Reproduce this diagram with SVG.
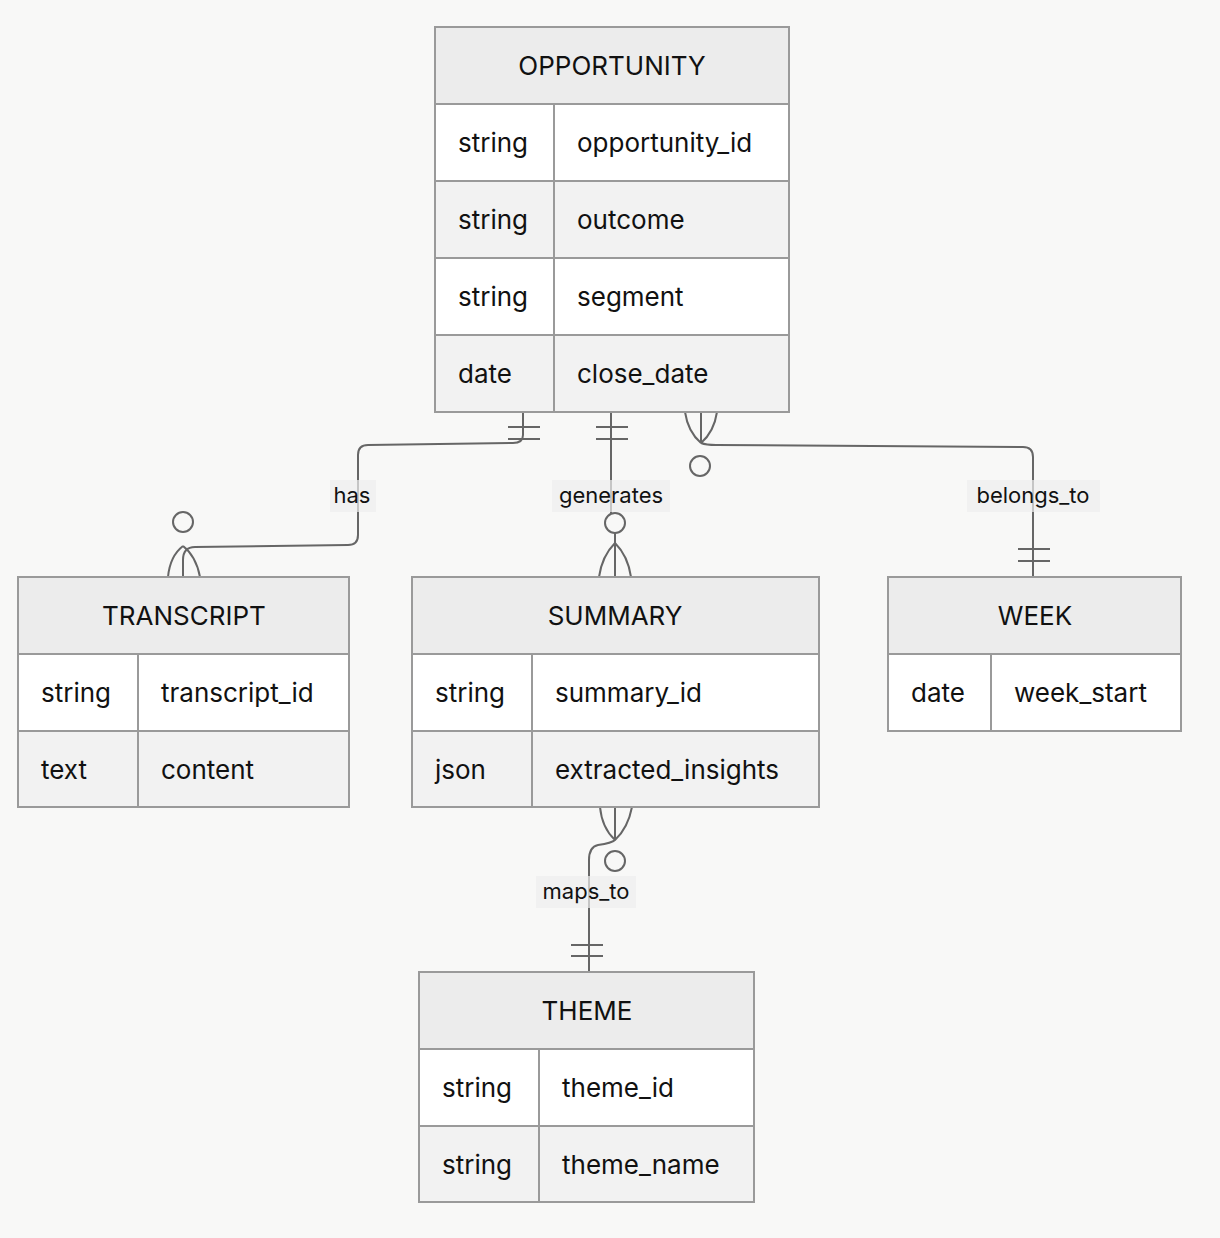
<svg xmlns="http://www.w3.org/2000/svg" width="1220" height="1238" viewBox="0 0 1220 1238">
<style>
.box{stroke:#9a9a9a;stroke-width:2}
.hd{fill:#ececec}.w{fill:#ffffff}.g{fill:#f2f2f2}
text{font-family:"Inter","Liberation Sans",sans-serif;fill:#111}
.t{font-size:26px}.h{font-size:26px;text-anchor:middle}
.l{font-size:22px;text-anchor:middle}
.c{fill:none;stroke:#666;stroke-width:2}
.lb{fill:#eeeeee;opacity:0.7}
</style>
<rect width="1220" height="1238" fill="#f8f8f7"/>
<g id="connectors">
<path class="c" d="M523,412 V435 Q523,443 513,443 L368,445 Q358,445 358,455 V535 Q358,545 348,545 L195,547 Q183,547 183,560 V577"/>
<path class="c" d="M168,577 Q170,556 183,546 M200,577 Q196,556 183,546"/>
<circle class="c" cx="183" cy="522" r="10" fill="#fff"/>
<path class="c" d="M508,427 H540 M508,439 H540"/>
<path class="c" d="M611,412 V513"/>
<path class="c" d="M596,427 H628 M596,439 H628"/>
<circle class="c" cx="615" cy="523" r="10" fill="#fff"/>
<path class="c" d="M615,533 V577 M599,577 Q602,556 615,543 M631,577 Q628,556 615,543"/>
<path class="c" d="M701,412 V443 M685,412 Q688,432 701,443 M717,412 Q714,432 701,443 M701,443 Q706,445 716,445 L1023,447 Q1033,447 1033,457 V577"/>
<circle class="c" cx="700" cy="466" r="10" fill="#fff"/>
<path class="c" d="M1018,549 H1050 M1018,561 H1050"/>
<path class="c" d="M615,807 V840 M600,807 Q602,828 615,840 M632,807 Q628,828 615,840 M615,840 Q612,843 598,845 Q589,847 589,860 V972"/>
<circle class="c" cx="615" cy="861" r="10" fill="#fff"/>
<path class="c" d="M571,945 H603 M571,956 H603"/>
<rect class="lb" x="330" y="480" width="46" height="32"/>
<text class="l" x="352" y="503">has</text>
<rect class="lb" x="552" y="480" width="118" height="32"/>
<text class="l" x="611" y="503">generates</text>
<rect class="lb" x="967" y="480" width="133" height="32"/>
<text class="l" x="1033" y="503">belongs_to</text>
<rect class="lb" x="536" y="876" width="100" height="32"/>
<text class="l" x="586" y="899">maps_to</text>
</g>
<g id="OPPORTUNITY">
<rect class="box hd" x="435" y="27" width="354" height="77"/>
<rect class="box w" x="435" y="104" width="119" height="77"/><rect class="box w" x="554" y="104" width="235" height="77"/>
<rect class="box g" x="435" y="181" width="119" height="77"/><rect class="box g" x="554" y="181" width="235" height="77"/>
<rect class="box w" x="435" y="258" width="119" height="77"/><rect class="box w" x="554" y="258" width="235" height="77"/>
<rect class="box g" x="435" y="335" width="119" height="77"/><rect class="box g" x="554" y="335" width="235" height="77"/>
<text class="h" x="612" y="75">OPPORTUNITY</text>
<text class="t" x="458" y="152">string</text><text class="t" x="577" y="152">opportunity_id</text>
<text class="t" x="458" y="229">string</text><text class="t" x="577" y="229">outcome</text>
<text class="t" x="458" y="306">string</text><text class="t" x="577" y="306">segment</text>
<text class="t" x="458" y="383">date</text><text class="t" x="577" y="383">close_date</text>
</g>
<g id="TRANSCRIPT">
<rect class="box hd" x="18" y="577" width="331" height="77"/>
<rect class="box w" x="18" y="654" width="120" height="77"/><rect class="box w" x="138" y="654" width="211" height="77"/>
<rect class="box g" x="18" y="731" width="120" height="76"/><rect class="box g" x="138" y="731" width="211" height="76"/>
<text class="h" x="184" y="625">TRANSCRIPT</text>
<text class="t" x="41" y="702">string</text><text class="t" x="161" y="702">transcript_id</text>
<text class="t" x="41" y="779">text</text><text class="t" x="161" y="779">content</text>
</g>
<g id="SUMMARY">
<rect class="box hd" x="412" y="577" width="407" height="77"/>
<rect class="box w" x="412" y="654" width="120" height="77"/><rect class="box w" x="532" y="654" width="287" height="77"/>
<rect class="box g" x="412" y="731" width="120" height="76"/><rect class="box g" x="532" y="731" width="287" height="76"/>
<text class="h" x="615" y="625">SUMMARY</text>
<text class="t" x="435" y="702">string</text><text class="t" x="555" y="702">summary_id</text>
<text class="t" x="435" y="779">json</text><text class="t" x="555" y="779">extracted_insights</text>
</g>
<g id="WEEK">
<rect class="box hd" x="888" y="577" width="293" height="77"/>
<rect class="box w" x="888" y="654" width="103" height="77"/><rect class="box w" x="991" y="654" width="190" height="77"/>
<text class="h" x="1035" y="625">WEEK</text>
<text class="t" x="911" y="702">date</text><text class="t" x="1014" y="702">week_start</text>
</g>
<g id="THEME">
<rect class="box hd" x="419" y="972" width="335" height="77"/>
<rect class="box w" x="419" y="1049" width="120" height="77"/><rect class="box w" x="539" y="1049" width="215" height="77"/>
<rect class="box g" x="419" y="1126" width="120" height="76"/><rect class="box g" x="539" y="1126" width="215" height="76"/>
<text class="h" x="587" y="1020">THEME</text>
<text class="t" x="442" y="1097">string</text><text class="t" x="562" y="1097">theme_id</text>
<text class="t" x="442" y="1174">string</text><text class="t" x="562" y="1174">theme_name</text>
</g>
</svg>
